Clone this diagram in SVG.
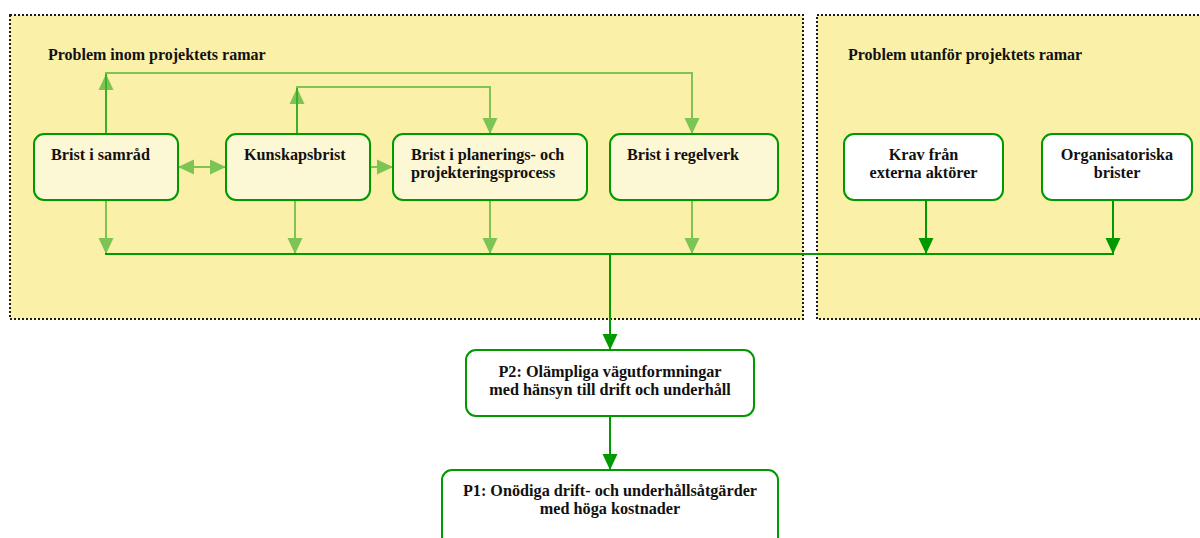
<svg xmlns="http://www.w3.org/2000/svg" width="1200" height="538" viewBox="0 0 1200 538">
  <style>
    .zone { fill: #FBF0A8; stroke: #1a1a1a; stroke-width: 2; stroke-dasharray: 2 2; }
    .title { font-family: "Liberation Serif", "Times New Roman", serif; font-weight: bold; font-size: 16px; fill: #111; }
    .lbl { font-family: "Liberation Serif", "Times New Roman", serif; font-weight: bold; font-size: 16.2px; fill: #111; }
    .mid { text-anchor: middle; }
    .inner { fill: #FCF7D5; stroke: #009900; stroke-width: 2; }
    .outer { fill: #FFFFFF; stroke: #009900; stroke-width: 2; }
    .soft { fill: none; stroke: #009900; stroke-width: 2; }
    .soft-g { opacity: 0.5; }
    .hard { fill: none; stroke: #009900; stroke-width: 2; }
  </style>
  <defs>
    <marker id="head" viewBox="0 0 16 16" markerWidth="16" markerHeight="16" refX="16" refY="8" orient="auto-start-reverse" markerUnits="userSpaceOnUse">
      <path d="M0,0.5 L16,8 L0,15.5 Z" fill="#009900"/>
    </marker>
  </defs>

  <!-- zones -->
  <g id="zone-inside">
    <rect class="zone" x="10" y="15" width="793" height="304"/>
    <text class="title" x="48" y="60">Problem inom projektets ramar</text>
  </g>
  <g id="zone-outside">
    <rect class="zone" x="817" y="15" width="400" height="304"/>
    <text class="title" x="848" y="60">Problem utanför projektets ramar</text>
  </g>

  <!-- connectors -->
  <g id="connectors">
    <g class="soft-g"><path class="soft" d="M106,134 V74" marker-end="url(#head)"/></g>
    <g class="soft-g"><path class="soft" d="M106,134 V73 H692 V134" marker-end="url(#head)"/></g>
    <g class="soft-g"><path class="soft" d="M297,134 V88" marker-end="url(#head)"/></g>
    <g class="soft-g"><path class="soft" d="M297,134 V87 H490 V134" marker-end="url(#head)"/></g>
    <g class="soft-g"><path class="soft" d="M178,167 H226" marker-start="url(#head)" marker-end="url(#head)"/></g>
    <g class="soft-g"><path class="soft" d="M370,167 H393" marker-end="url(#head)"/></g>
    <g class="soft-g"><path class="soft" d="M106,200 V254" marker-end="url(#head)"/></g>
    <g class="soft-g"><path class="soft" d="M295,200 V254" marker-end="url(#head)"/></g>
    <g class="soft-g"><path class="soft" d="M490,200 V254" marker-end="url(#head)"/></g>
    <g class="soft-g"><path class="soft" d="M692,200 V254" marker-end="url(#head)"/></g>

    <path class="hard" d="M105,254 H1114" stroke-width="2.5"/>
    <path class="hard" d="M926,200 V254" marker-end="url(#head)"/>
    <path class="hard" d="M1113,200 V254" marker-end="url(#head)"/>
    <path class="hard" d="M610,254 V350" marker-end="url(#head)"/>
    <path class="hard" d="M610,416 V470" marker-end="url(#head)"/>
  </g>

  <!-- nodes -->
  <g id="brist-samrad">
    <rect class="inner" x="34" y="134" width="144" height="66" rx="10"/>
    <text class="lbl" x="51" y="160">Brist i samråd</text>
  </g>
  <g id="kunskapsbrist">
    <rect class="inner" x="226" y="134" width="144" height="66" rx="10"/>
    <text class="lbl" x="244" y="160">Kunskapsbrist</text>
  </g>
  <g id="brist-planering">
    <rect class="inner" x="393" y="134" width="194" height="66" rx="10"/>
    <text class="lbl" x="411" y="160">Brist i planerings- och</text>
    <text class="lbl" x="411" y="178">projekteringsprocess</text>
  </g>
  <g id="brist-regelverk">
    <rect class="inner" x="610" y="134" width="168" height="66" rx="10"/>
    <text class="lbl" x="627" y="160">Brist i regelverk</text>
  </g>
  <g id="krav-externa">
    <rect class="outer" x="844" y="134" width="159" height="66" rx="10"/>
    <text class="lbl mid" x="923.5" y="160">Krav från</text>
    <text class="lbl mid" x="923.5" y="178">externa aktörer</text>
  </g>
  <g id="organisatoriska">
    <rect class="outer" x="1042" y="134" width="150" height="66" rx="10"/>
    <text class="lbl mid" x="1117" y="160">Organisatoriska</text>
    <text class="lbl mid" x="1117" y="178">brister</text>
  </g>
  <g id="p2">
    <rect class="outer" x="466" y="350" width="288" height="66" rx="10"/>
    <text class="lbl mid" x="610" y="377">P2: Olämpliga vägutformningar</text>
    <text class="lbl mid" x="610" y="395">med hänsyn till drift och underhåll</text>
  </g>
  <g id="p1">
    <rect class="outer" x="442" y="470" width="336" height="80" rx="10"/>
    <text class="lbl mid" x="610" y="496">P1: Onödiga drift- och underhållsåtgärder</text>
    <text class="lbl mid" x="610" y="514">med höga kostnader</text>
  </g>
</svg>
